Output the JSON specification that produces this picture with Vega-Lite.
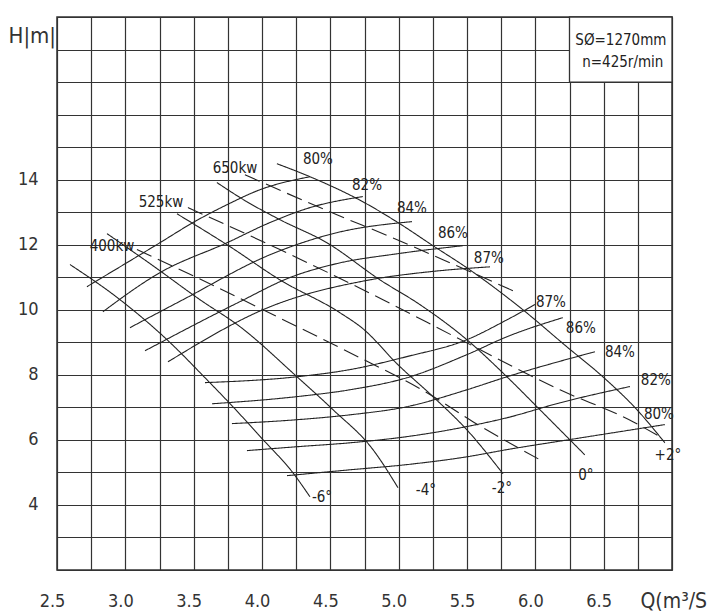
{
  "$schema": "https://vega.github.io/schema/vega-lite/v6.json",
  "width": 615,
  "height": 553,
  "autosize": {"type": "none"},
  "padding": {"left": 57, "top": 17, "right": 36, "bottom": 45},
  "background": "white",
  "config": {
    "view": {"stroke": "#333", "strokeWidth": 1.5},
    "font": "DejaVu Sans Condensed, DejaVu Sans, sans-serif"
  },
  "datasets": {
    "curves": [
      {"c": "-6°", "s": "solid", "q": 2.595, "h": 11.39},
      {"c": "-6°", "s": "solid", "q": 2.961, "h": 10.31},
      {"c": "-6°", "s": "solid", "q": 3.305, "h": 9.08},
      {"c": "-6°", "s": "solid", "q": 3.597, "h": 7.85},
      {"c": "-6°", "s": "solid", "q": 3.787, "h": 7.02},
      {"c": "-6°", "s": "solid", "q": 4.007, "h": 6.01},
      {"c": "-6°", "s": "solid", "q": 4.226, "h": 4.99},
      {"c": "-6°", "s": "solid", "q": 4.351, "h": 4.25},
      {"c": "-4°", "s": "solid", "q": 2.866, "h": 12.34},
      {"c": "-4°", "s": "solid", "q": 3.18, "h": 11.42},
      {"c": "-4°", "s": "solid", "q": 3.546, "h": 10.31},
      {"c": "-4°", "s": "solid", "q": 3.839, "h": 9.48},
      {"c": "-4°", "s": "solid", "q": 4.256, "h": 7.94},
      {"c": "-4°", "s": "solid", "q": 4.519, "h": 6.93},
      {"c": "-4°", "s": "solid", "q": 4.812, "h": 5.7},
      {"c": "-4°", "s": "solid", "q": 4.995, "h": 4.53},
      {"c": "-2°", "s": "solid", "q": 3.378, "h": 12.95},
      {"c": "-2°", "s": "solid", "q": 3.766, "h": 11.94},
      {"c": "-2°", "s": "solid", "q": 4.131, "h": 10.92},
      {"c": "-2°", "s": "solid", "q": 4.57, "h": 9.91},
      {"c": "-2°", "s": "solid", "q": 4.738, "h": 9.42},
      {"c": "-2°", "s": "solid", "q": 4.995, "h": 8.31},
      {"c": "-2°", "s": "solid", "q": 5.251, "h": 7.33},
      {"c": "-2°", "s": "solid", "q": 5.499, "h": 6.31},
      {"c": "-2°", "s": "solid", "q": 5.763, "h": 4.96},
      {"c": "0°", "s": "solid", "q": 3.67, "h": 13.91},
      {"c": "0°", "s": "solid", "q": 3.89, "h": 13.32},
      {"c": "0°", "s": "solid", "q": 4.131, "h": 12.77},
      {"c": "0°", "s": "solid", "q": 4.475, "h": 12.06},
      {"c": "0°", "s": "solid", "q": 4.863, "h": 10.92},
      {"c": "0°", "s": "solid", "q": 5.155, "h": 10.16},
      {"c": "0°", "s": "solid", "q": 5.499, "h": 9.08},
      {"c": "0°", "s": "solid", "q": 5.792, "h": 7.94},
      {"c": "0°", "s": "solid", "q": 6.033, "h": 6.93},
      {"c": "0°", "s": "solid", "q": 6.362, "h": 5.54},
      {"c": "+2°", "s": "solid", "q": 4.109, "h": 14.49},
      {"c": "+2°", "s": "solid", "q": 4.351, "h": 14.09},
      {"c": "+2°", "s": "solid", "q": 4.738, "h": 13.32},
      {"c": "+2°", "s": "solid", "q": 4.995, "h": 12.68},
      {"c": "+2°", "s": "solid", "q": 5.251, "h": 11.97},
      {"c": "+2°", "s": "solid", "q": 5.499, "h": 11.29},
      {"c": "+2°", "s": "solid", "q": 5.909, "h": 10.0},
      {"c": "+2°", "s": "solid", "q": 6.231, "h": 8.86},
      {"c": "+2°", "s": "solid", "q": 6.494, "h": 7.94},
      {"c": "+2°", "s": "solid", "q": 6.743, "h": 6.93},
      {"c": "+2°", "s": "solid", "q": 6.948, "h": 5.91},
      {"c": "650kw", "s": "dashed", "q": 3.875, "h": 14.15},
      {"c": "650kw", "s": "dashed", "q": 4.548, "h": 12.92},
      {"c": "650kw", "s": "dashed", "q": 4.936, "h": 12.25},
      {"c": "650kw", "s": "dashed", "q": 5.324, "h": 11.54},
      {"c": "650kw", "s": "dashed", "q": 5.85, "h": 10.56},
      {"c": "525kw", "s": "dashed", "q": 3.458, "h": 13.14},
      {"c": "525kw", "s": "dashed", "q": 4.131, "h": 11.85},
      {"c": "525kw", "s": "dashed", "q": 4.885, "h": 10.31},
      {"c": "525kw", "s": "dashed", "q": 5.426, "h": 9.14},
      {"c": "525kw", "s": "dashed", "q": 6.18, "h": 7.54},
      {"c": "525kw", "s": "dashed", "q": 6.714, "h": 6.56},
      {"c": "525kw", "s": "dashed", "q": 6.911, "h": 6.1},
      {"c": "400kw", "s": "dashed", "q": 3.085, "h": 11.85},
      {"c": "400kw", "s": "dashed", "q": 3.524, "h": 10.99},
      {"c": "400kw", "s": "dashed", "q": 4.109, "h": 9.79},
      {"c": "400kw", "s": "dashed", "q": 4.643, "h": 8.68},
      {"c": "400kw", "s": "dashed", "q": 5.207, "h": 7.45},
      {"c": "400kw", "s": "dashed", "q": 5.543, "h": 6.56},
      {"c": "400kw", "s": "dashed", "q": 6.033, "h": 5.39},
      {"c": "80%U", "s": "solid", "q": 2.719, "h": 10.71},
      {"c": "80%U", "s": "solid", "q": 3.253, "h": 12.06},
      {"c": "80%U", "s": "solid", "q": 3.495, "h": 12.68},
      {"c": "80%U", "s": "solid", "q": 3.744, "h": 13.23},
      {"c": "80%U", "s": "solid", "q": 3.985, "h": 13.69},
      {"c": "80%U", "s": "solid", "q": 4.351, "h": 14.09},
      {"c": "82%U", "s": "solid", "q": 2.836, "h": 9.94},
      {"c": "82%U", "s": "solid", "q": 3.253, "h": 11.14},
      {"c": "82%U", "s": "solid", "q": 3.744, "h": 12.06},
      {"c": "82%U", "s": "solid", "q": 4.058, "h": 12.68},
      {"c": "82%U", "s": "solid", "q": 4.351, "h": 13.14},
      {"c": "82%U", "s": "solid", "q": 4.738, "h": 13.48},
      {"c": "84%U", "s": "solid", "q": 3.034, "h": 9.45},
      {"c": "84%U", "s": "solid", "q": 3.422, "h": 10.31},
      {"c": "84%U", "s": "solid", "q": 4.058, "h": 11.69},
      {"c": "84%U", "s": "solid", "q": 4.548, "h": 12.37},
      {"c": "84%U", "s": "solid", "q": 5.097, "h": 12.71},
      {"c": "86%U", "s": "solid", "q": 3.144, "h": 8.74},
      {"c": "86%U", "s": "solid", "q": 3.839, "h": 10.25},
      {"c": "86%U", "s": "solid", "q": 4.204, "h": 10.99},
      {"c": "86%U", "s": "solid", "q": 4.548, "h": 11.42},
      {"c": "86%U", "s": "solid", "q": 4.987, "h": 11.72},
      {"c": "86%U", "s": "solid", "q": 5.47, "h": 11.97},
      {"c": "87%U", "s": "solid", "q": 3.312, "h": 8.4},
      {"c": "87%U", "s": "solid", "q": 4.058, "h": 10.09},
      {"c": "87%U", "s": "solid", "q": 4.79, "h": 10.92},
      {"c": "87%U", "s": "solid", "q": 5.229, "h": 11.17},
      {"c": "87%U", "s": "solid", "q": 5.668, "h": 11.32},
      {"c": "87%L", "s": "solid", "q": 3.583, "h": 7.76},
      {"c": "87%L", "s": "solid", "q": 4.256, "h": 7.94},
      {"c": "87%L", "s": "solid", "q": 4.643, "h": 8.16},
      {"c": "87%L", "s": "solid", "q": 5.06, "h": 8.56},
      {"c": "87%L", "s": "solid", "q": 5.499, "h": 9.08},
      {"c": "87%L", "s": "solid", "q": 5.792, "h": 9.69},
      {"c": "87%L", "s": "solid", "q": 5.997, "h": 10.16},
      {"c": "86%L", "s": "solid", "q": 3.634, "h": 7.11},
      {"c": "86%L", "s": "solid", "q": 4.256, "h": 7.33},
      {"c": "86%L", "s": "solid", "q": 4.643, "h": 7.54},
      {"c": "86%L", "s": "solid", "q": 5.06, "h": 7.91},
      {"c": "86%L", "s": "solid", "q": 5.499, "h": 8.62},
      {"c": "86%L", "s": "solid", "q": 5.792, "h": 9.17},
      {"c": "86%L", "s": "solid", "q": 6.202, "h": 9.76},
      {"c": "84%L", "s": "solid", "q": 3.78, "h": 6.5},
      {"c": "84%L", "s": "solid", "q": 4.256, "h": 6.62},
      {"c": "84%L", "s": "solid", "q": 4.643, "h": 6.77},
      {"c": "84%L", "s": "solid", "q": 5.06, "h": 7.02},
      {"c": "84%L", "s": "solid", "q": 5.499, "h": 7.54},
      {"c": "84%L", "s": "solid", "q": 5.792, "h": 7.94},
      {"c": "84%L", "s": "solid", "q": 6.436, "h": 8.71},
      {"c": "82%L", "s": "solid", "q": 3.89, "h": 5.67},
      {"c": "82%L", "s": "solid", "q": 4.256, "h": 5.79},
      {"c": "82%L", "s": "solid", "q": 4.643, "h": 5.91},
      {"c": "82%L", "s": "solid", "q": 5.06, "h": 6.1},
      {"c": "82%L", "s": "solid", "q": 5.499, "h": 6.41},
      {"c": "82%L", "s": "solid", "q": 5.792, "h": 6.68},
      {"c": "82%L", "s": "solid", "q": 6.18, "h": 7.14},
      {"c": "82%L", "s": "solid", "q": 6.692, "h": 7.64},
      {"c": "80%L", "s": "solid", "q": 4.183, "h": 4.9},
      {"c": "80%L", "s": "solid", "q": 4.643, "h": 5.08},
      {"c": "80%L", "s": "solid", "q": 5.06, "h": 5.24},
      {"c": "80%L", "s": "solid", "q": 5.499, "h": 5.48},
      {"c": "80%L", "s": "solid", "q": 5.792, "h": 5.7},
      {"c": "80%L", "s": "solid", "q": 6.253, "h": 6.01},
      {"c": "80%L", "s": "solid", "q": 6.948, "h": 6.47}
    ],
    "labels": [
      {"t": "80%", "q": 4.409, "h": 14.64},
      {"t": "82%", "q": 4.768, "h": 13.84},
      {"t": "84%", "q": 5.097, "h": 13.14},
      {"t": "86%", "q": 5.397, "h": 12.37},
      {"t": "87%", "q": 5.66, "h": 11.6},
      {"t": "87%", "q": 6.114, "h": 10.25},
      {"t": "86%", "q": 6.333, "h": 9.45},
      {"t": "84%", "q": 6.619, "h": 8.71},
      {"t": "82%", "q": 6.882, "h": 7.85},
      {"t": "80%", "q": 6.904, "h": 6.81},
      {"t": "+2°", "q": 6.97, "h": 5.54},
      {"t": "0°", "q": 6.37, "h": 4.93},
      {"t": "-2°", "q": 5.755, "h": 4.53},
      {"t": "-4°", "q": 5.199, "h": 4.47},
      {"t": "-6°", "q": 4.439, "h": 4.25},
      {"t": "400kw", "q": 2.902, "h": 11.97},
      {"t": "525kw", "q": 3.261, "h": 13.32},
      {"t": "650kw", "q": 3.802, "h": 14.37}
    ],
    "box": [{"q": 6.25, "q2": 7.0, "h": 17, "h2": 19}],
    "info": [
      {"t": "SØ=1270mm", "q": 6.626, "h": 18.3},
      {"t": "n=425r/min", "q": 6.64, "h": 17.63}
    ]
  },
  "encoding": {
    "x": {
      "field": "q",
      "type": "quantitative",
      "scale": {"domain": [2.5, 7.0], "nice": false, "zero": false},
      "axis": {
        "values": [2.5, 2.75, 3, 3.25, 3.5, 3.75, 4, 4.25, 4.5, 4.75, 5, 5.25, 5.5, 5.75, 6, 6.25, 6.5, 6.75, 7],
        "labelExpr": "(datum.value * 2 == floor(datum.value * 2)) && datum.value < 6.9 ? format(datum.value, '.1f') : ''",
        "grid": true,
        "gridColor": "#333",
        "gridWidth": 1.2,
        "gridOpacity": 1,
        "domain": false,
        "ticks": false,
        "labelFlush": false,
        "labelOverlap": false,
        "labelPadding": 22,
        "labelFontSize": 18,
        "labelColor": "#333",
        "labelOffset": -5,
        "title": "Q(m³/S)",
        "titleX": 583,
        "titleY": 31,
        "titleAlign": "left",
        "titleBaseline": "middle",
        "titleFontSize": 21,
        "titleFontWeight": "normal",
        "titleColor": "#333"
      }
    },
    "y": {
      "field": "h",
      "type": "quantitative",
      "scale": {"domain": [2, 19], "nice": false, "zero": false},
      "axis": {
        "values": [2, 3, 4, 5, 6, 7, 8, 9, 10, 11, 12, 13, 14, 15, 16, 17, 18, 19],
        "labelExpr": "datum.value >= 4 && datum.value <= 14 && datum.value % 2 == 0 ? format(datum.value, 'd') : ''",
        "grid": true,
        "gridColor": "#333",
        "gridWidth": 1.2,
        "gridOpacity": 1,
        "domain": false,
        "ticks": false,
        "labelFlush": false,
        "labelOverlap": false,
        "labelPadding": 19,
        "labelFontSize": 18,
        "labelColor": "#333",
        "labelBaseline": "middle",
        "title": "H|m|",
        "titleAngle": 0,
        "titleX": -49,
        "titleY": 18,
        "titleAlign": "left",
        "titleBaseline": "middle",
        "titleFontSize": 22,
        "titleFontWeight": "normal",
        "titleColor": "#333"
      }
    }
  },
  "layer": [
    {
      "data": {"name": "box"},
      "mark": {"type": "rect", "fill": "white", "stroke": "#333", "strokeWidth": 1.3},
      "encoding": {"x2": {"field": "q2"}, "y2": {"field": "h2"}}
    },
    {
      "data": {"name": "curves"},
      "mark": {"type": "line", "interpolate": "monotone", "color": "#222", "strokeWidth": 1.1},
      "encoding": {
        "detail": {"field": "c", "type": "nominal"},
        "strokeDash": {
          "field": "s",
          "type": "nominal",
          "scale": {"domain": ["solid", "dashed"], "range": [[1, 0], [16, 7]]},
          "legend": null
        }
      }
    },
    {
      "data": {"name": "labels"},
      "mark": {"type": "text", "fontSize": 15, "color": "#222", "align": "center", "baseline": "middle"},
      "encoding": {"text": {"field": "t", "type": "nominal"}}
    },
    {
      "data": {"name": "info"},
      "mark": {"type": "text", "fontSize": 15, "color": "#222", "align": "center", "baseline": "middle"},
      "encoding": {"text": {"field": "t", "type": "nominal"}}
    }
  ]
}
